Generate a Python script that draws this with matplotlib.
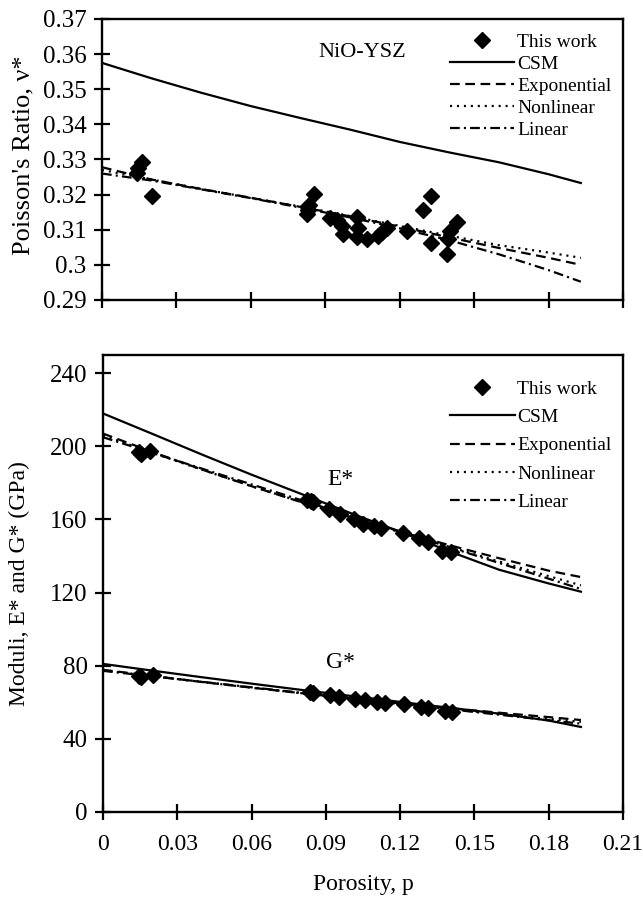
import matplotlib.pyplot as plt

plt.rcParams['font.family'] = ['Liberation Serif', 'DejaVu Serif']
plt.rcParams['lines.scale_dashes'] = False

p_model = [0, 0.02, 0.04, 0.06, 0.08, 0.10, 0.12, 0.14, 0.16, 0.18, 0.193]

# Poisson's ratio (top panel)
nu_csm = [0.3575, 0.3531, 0.3490, 0.3452, 0.3418, 0.3385, 0.3350, 0.3320, 0.3292, 0.3258, 0.3233]
nu_exp = [0.3278, 0.3243, 0.3216, 0.3191, 0.3165, 0.3138, 0.3109, 0.3078, 0.3048, 0.3020, 0.3000]
nu_nonlin = [0.3270, 0.3243, 0.3216, 0.3191, 0.3166, 0.3139, 0.3111, 0.3083, 0.3056, 0.3035, 0.3020]
nu_lin = [0.3260, 0.3240, 0.3215, 0.3190, 0.3163, 0.3135, 0.3104, 0.3070, 0.3030, 0.2985, 0.2952]

p_nu = [0.0160, 0.0146, 0.0140, 0.0200, 0.0856, 0.0836, 0.0825, 0.0830, 0.0919, 0.0946,
        0.0966, 0.0973, 0.1029, 0.1033, 0.1029, 0.1067, 0.1114, 0.1127, 0.1147, 0.1228,
        0.1293, 0.1325, 0.1325, 0.1430, 0.1403, 0.1396, 0.1392]
nu_data = [0.3293, 0.3275, 0.3262, 0.3197, 0.3203, 0.3170, 0.3144, 0.3155, 0.3132, 0.3127,
           0.3110, 0.3089, 0.3135, 0.3104, 0.3080, 0.3075, 0.3082, 0.3094, 0.3104, 0.3097,
           0.3156, 0.3196, 0.3061, 0.3122, 0.3097, 0.3075, 0.3032]

# Young's modulus E* and shear modulus G* (bottom panel), GPa
E_csm = [218.0, 206.8, 195.5, 184.5, 174.0, 163.5, 153.3, 142.5, 132.5, 125.0, 120.5]
E_exp = [207.0, 196.9, 187.3, 178.2, 169.5, 161.2, 153.4, 145.9, 138.8, 132.0, 128.5]
E_nonlin = [206.0, 196.5, 187.2, 178.2, 169.6, 161.2, 153.0, 145.0, 137.0, 129.0, 124.0]
E_lin = [205.0, 196.4, 187.8, 179.2, 170.6, 162.0, 153.4, 144.8, 136.2, 127.6, 122.0]

G_csm = [81.0, 77.3, 73.7, 70.2, 66.8, 63.5, 60.2, 57.0, 53.8, 50.0, 46.5]
G_exp = [77.8, 74.4, 71.1, 68.0, 65.0, 62.1, 59.4, 56.8, 54.3, 51.9, 50.3]
G_nonlin = [77.5, 74.3, 71.1, 68.0, 65.0, 62.0, 59.1, 56.3, 53.6, 50.9, 49.3]
G_lin = [77.2, 74.2, 71.2, 68.2, 65.2, 62.2, 59.2, 56.2, 53.2, 50.2, 48.3]

p_E = [0.0144, 0.0152, 0.0191, 0.0824, 0.0840, 0.0850, 0.0911, 0.0957, 0.1013, 0.1051,
       0.1093, 0.1124, 0.1213, 0.1277, 0.1311, 0.1371, 0.1404]
E_data = [197.0, 196.0, 197.5, 170.6, 170.0, 169.5, 165.5, 162.8, 160.2, 157.8,
          156.4, 155.4, 152.7, 149.6, 147.5, 142.9, 142.3]
p_G = [0.0145, 0.0152, 0.0201, 0.0835, 0.0850, 0.0917, 0.0954, 0.1019, 0.1057, 0.1107,
       0.1138, 0.1217, 0.1283, 0.1313, 0.1382, 0.1410]
G_data = [74.5, 74.0, 75.0, 65.5, 65.0, 63.9, 63.0, 62.0, 61.0, 60.4,
          59.8, 58.8, 57.4, 57.0, 55.4, 54.8]

x_ticks = [0, 0.03, 0.06, 0.09, 0.12, 0.15, 0.18, 0.21]
x_labels = ['0', '0.03', '0.06', '0.09', '0.12', '0.15', '0.18', '0.21']
nu_ticks = [0.29, 0.30, 0.31, 0.32, 0.33, 0.34, 0.35, 0.36, 0.37]
nu_labels = ['0.29', '0.3', '0.31', '0.32', '0.33', '0.34', '0.35', '0.36', '0.37']
mod_ticks = [0, 40, 80, 120, 160, 200, 240]

dash = {'CSM': (None, None), 'Exponential': (7, 4), 'Nonlinear': (1.5, 3.5),
        'Linear': (7, 3, 1.5, 3)}

LW = 1.6
MS = 8


def style_axes(ax):
    for s in ax.spines.values():
        s.set_linewidth(1.7)
    ax.tick_params(direction='inout', length=12, width=1.6, top=False, right=False,
                   labelsize=18, pad=5)
    ax.tick_params(axis='x', labelsize=17)
    ax.set_xlim(0, 0.21)
    ax.set_xticks(x_ticks)


def model_line(ax, y, name, label=True):
    lab = name if label else None
    if name == 'CSM':
        ax.plot(p_model, y, color='black', lw=LW, ls='-', label=lab)
    else:
        ax.plot(p_model, y, color='black', lw=LW, dashes=dash[name], label=lab)


def add_legend(ax, y_top, spacing):
    ax.legend(loc='upper left', bbox_to_anchor=(0.668, y_top), frameon=False,
              fontsize=14, handlelength=3.3, handletextpad=0.15, labelspacing=spacing,
              borderpad=0, borderaxespad=0)


fig = plt.figure(figsize=(6.43, 9.0), dpi=100)

# ---------------- top: Poisson's ratio ----------------
ax1 = fig.add_axes([0.1586, 0.6667, 0.8103, 0.3122])
ax1.plot(p_nu, nu_data, ls='none', marker='D', ms=MS, color='black', label='This work')
model_line(ax1, nu_csm, 'CSM')
model_line(ax1, nu_exp, 'Exponential')
model_line(ax1, nu_nonlin, 'Nonlinear')
model_line(ax1, nu_lin, 'Linear')
style_axes(ax1)
ax1.set_ylim(0.29, 0.37)
ax1.set_yticks(nu_ticks)
ax1.set_yticklabels(nu_labels)
ax1.set_xticklabels([])
ax1.set_ylabel("Poisson's Ratio, \u03bd*", fontsize=19)
ax1.yaxis.set_label_coords(-0.13, 0.515)
ax1.text(0.105, 0.3605, 'NiO-YSZ', fontsize=16, ha='center', va='center')
add_legend(ax1, 0.948, 0.22)

# ---------------- bottom: moduli ----------------
ax2 = fig.add_axes([0.1602, 0.0978, 0.8087, 0.5078])
ax2.plot(p_E, E_data, ls='none', marker='D', ms=MS, color='black', label='This work')
ax2.plot(p_G, G_data, ls='none', marker='D', ms=MS, color='black')
model_line(ax2, E_csm, 'CSM')
model_line(ax2, E_exp, 'Exponential')
model_line(ax2, E_nonlin, 'Nonlinear')
model_line(ax2, E_lin, 'Linear')
model_line(ax2, G_csm, 'CSM', False)
model_line(ax2, G_exp, 'Exponential', False)
model_line(ax2, G_nonlin, 'Nonlinear', False)
model_line(ax2, G_lin, 'Linear', False)
style_axes(ax2)
ax2.set_ylim(0, 250)
ax2.set_yticks(mod_ticks)
ax2.set_xticklabels(x_labels)
ax2.tick_params(axis='x', pad=10)
ax2.set_ylabel('Moduli, E* and G* (GPa)', fontsize=17)
ax2.yaxis.set_label_coords(-0.14, 0.5)
ax2.set_xlabel('Porosity, p', fontsize=17)
ax2.xaxis.set_label_coords(0.5, -0.135)
ax2.text(0.096, 182, 'E*', fontsize=17, ha='center', va='center')
ax2.text(0.096, 82, 'G*', fontsize=17, ha='center', va='center')
add_legend(ax2, 0.945, 0.55)

plt.savefig('out.png', dpi=100)
